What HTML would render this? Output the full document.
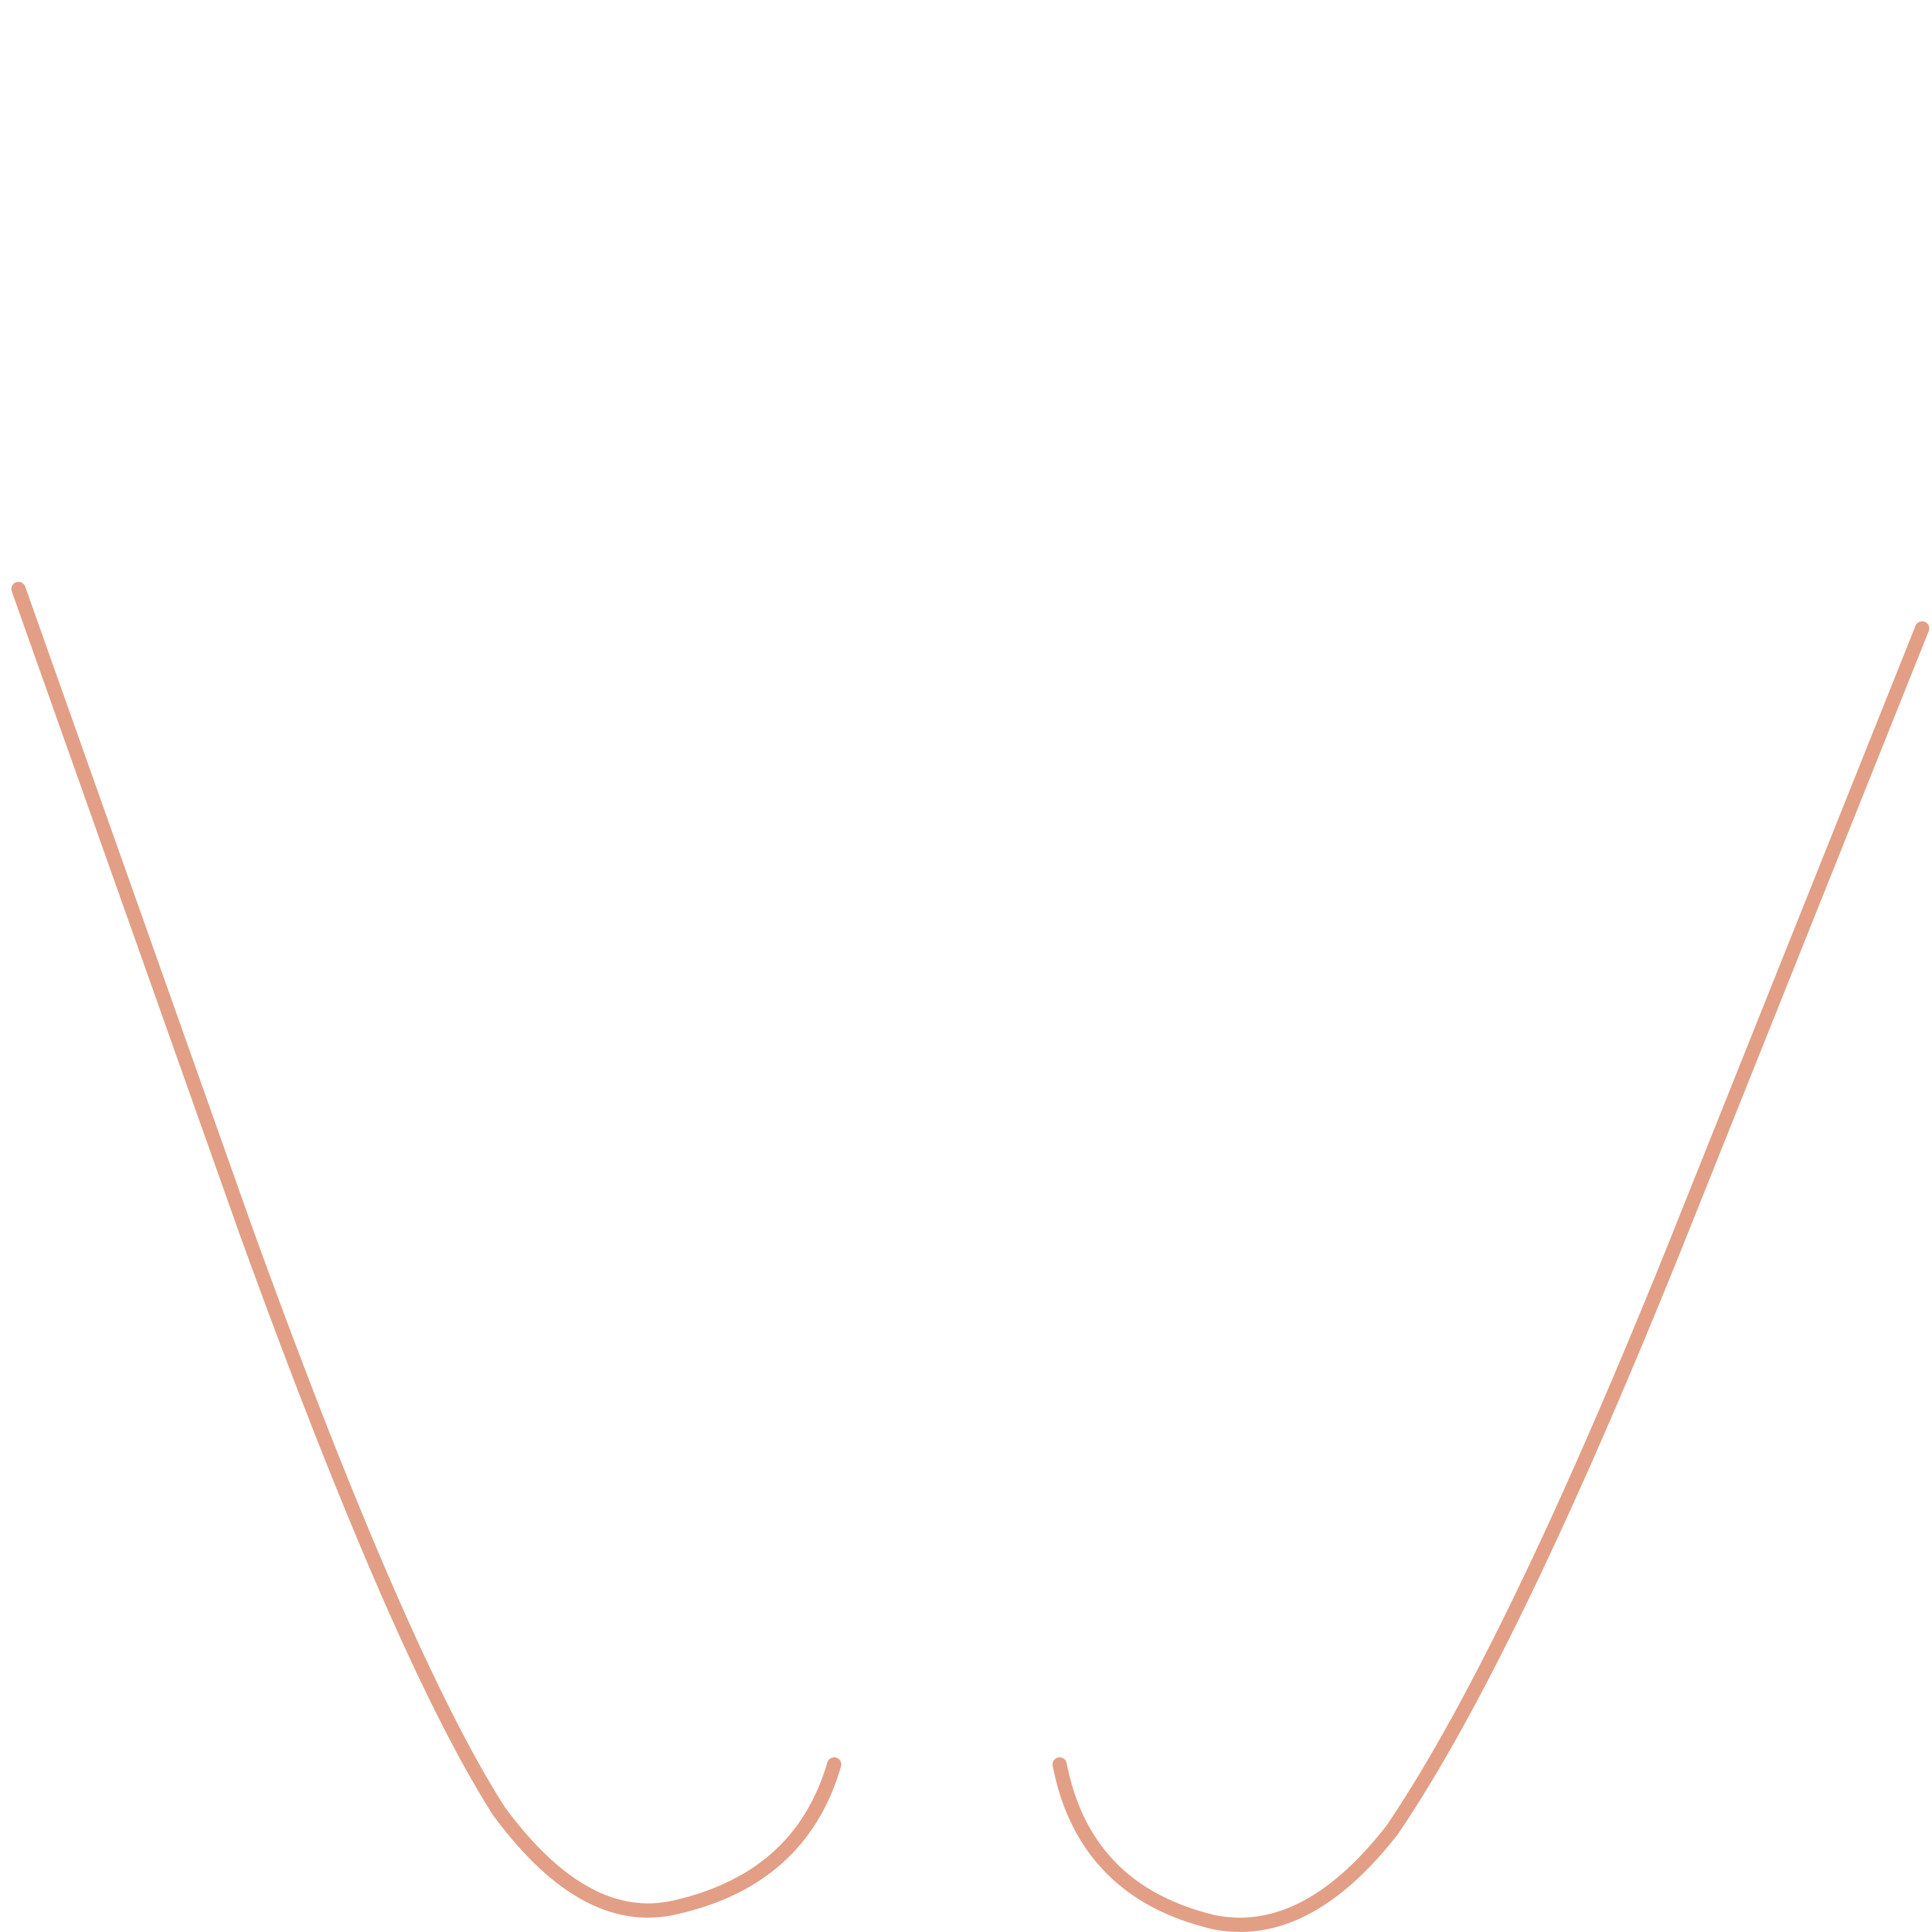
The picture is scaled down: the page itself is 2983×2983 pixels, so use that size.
<!DOCTYPE html>
<html><head><meta charset="utf-8"><style>
html,body{margin:0;padding:0;background:#fff;}
svg{display:block;}
</style></head><body>
<svg id="chart" width="2983" height="2983" viewBox="0 0 2983 2983" xmlns="http://www.w3.org/2000/svg">
<rect width="2983" height="2983" fill="#ffffff"/>
<g id="plot"></g>
</svg>
<script>
// anchor points and quadratic control points (first segment straight)
const leftX = [15, 200, 405, 548, 677];
const leftY = [478, 1000, 1470, 1548, 1432];
const leftCX = [null, 325, 475, 650];
const leftCY = [null, 1345, 1565, 1525];
const rightX = [1560, 1360, 1130, 985, 860];
const rightY = [510, 1010, 1485, 1560, 1432];
const rightCX = [null, 1225, 1060, 880];
const rightCY = [null, 1345, 1575, 1535];

const K = 2983 / 1568;
function sx(v){ return v * K; }
function sy(v){ return v * K; }
function pathFrom(xs, ys, cxs, cys){
  let d = 'M' + sx(xs[0]) + ',' + sy(ys[0]);
  for (let i=1;i<xs.length;i++){
    const c = i-1;
    if (cxs[c] === null) d += ' L' + sx(xs[i]) + ',' + sy(ys[i]);
    else d += ' Q' + sx(cxs[c]) + ',' + sy(cys[c]) + ' ' + sx(xs[i]) + ',' + sy(ys[i]);
  }
  return d;
}
const g = document.getElementById('plot');
function addLine(xs, ys, cxs, cys, name){
  const el = document.createElementNS('http://www.w3.org/2000/svg','path');
  el.setAttribute('d', pathFrom(xs, ys, cxs, cys));
  el.setAttribute('fill','none');
  el.setAttribute('stroke','#e29f86');
  el.setAttribute('stroke-width','22');
  el.setAttribute('stroke-linecap','round');
  el.setAttribute('stroke-linejoin','round');
  
  
  g.appendChild(el);
}
addLine(leftX, leftY, leftCX, leftCY, 'left-curve');
addLine(rightX, rightY, rightCX, rightCY, 'right-curve');
</script>
</body></html>
